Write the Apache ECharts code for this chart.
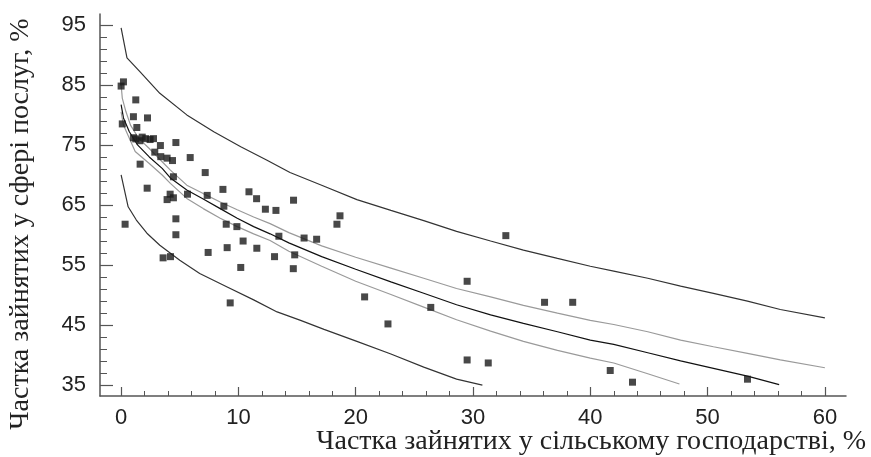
<!DOCTYPE html>
<html>
<head>
<meta charset="utf-8">
<script src="https://cdn.jsdelivr.net/npm/echarts@6/dist/echarts.min.js"></script>
<style>
html,body{margin:0;padding:0;background:#fff;}
#c{width:871px;height:457px;}
</style>
</head>
<body>
<div id="c"></div>
<script>
// Axis ticks / labels
var xMajorTicks = [0, 10, 20, 30, 40, 50, 60];
var xMinorTicks = [0,2,4,6,8,10,12,14,16,18,20,22,24,26,28,30,32,34,36,38,40,42,44,46,48,50,52,54,56,58,60];
var yMajorTicks = [35, 45, 55, 65, 75, 85, 95];
var yMinorTicks = [35,37,39,41,43,45,47,49,51,53,55,57,59,61,63,65,67,69,71,73,75,77,79,81,83,85,87,89,91,93,95];

// Observations: agriculture share (x) and services share (y), %
var obsX = [0.0,0.2,1.25,1.05,2.25,0.1,1.34,1.05,1.25,1.8,1.6,2.1,2.47,2.76,3.35,4.67,2.87,3.38,3.92,4.38,5.89,1.62,7.17,4.46,2.22,8.68,10.9,4.18,4.46,3.92,5.66,7.34,8.76,0.34,4.67,4.67,8.96,9.87,10.4,9.04,7.42,3.58,4.21,10.2,9.3,11.55,14.7,12.3,13.2,18.66,18.4,13.45,15.6,16.67,11.57,13.08,14.8,14.68,20.76,32.8,29.5,22.75,26.4,36.1,38.5,29.5,31.3,41.7,43.6,53.4];
var obsY = [84.8,85.5,82.5,79.7,79.5,78.5,77.9,76.2,76.0,76.3,75.7,76.05,75.9,76.05,74.9,75.4,73.8,73.05,72.8,72.4,72.9,71.8,70.4,69.7,67.8,67.6,67.2,66.8,66.2,65.9,66.8,66.6,64.8,61.8,62.7,60.05,61.8,61.4,59.0,57.9,57.1,56.2,56.4,54.6,48.7,66.05,65.8,64.3,64.1,63.2,61.8,59.8,59.5,59.3,57.8,56.4,56.7,54.4,49.7,59.9,52.3,45.2,47.95,48.8,48.8,39.2,38.7,37.45,35.5,36.0];

// Upper prediction bound
var upPredX = [0,0.5,1.6,3.3,5.6,7.9,10.2,12.4,14.4,17.2,20.1,23,25.8,28.6,31.5,34.3,37.2,40,42,44.9,47.7,50.5,53.4,56.2,60];
var upPredY = [94.5,89.5,87.2,83.6,80.0,77.2,74.7,72.5,70.4,68.2,65.9,64.1,62.4,60.6,59.0,57.5,56.1,54.8,54.0,52.8,51.5,50.3,49.0,47.6,46.2];

// Upper confidence bound
var upConfX = [0,0.1,0.4,0.8,1.5,2.4,3.5,4.2,5.6,7.0,8.45,9.9,11.3,12.7,14.3,17.1,20.0,23,25.8,28.6,31.5,34.3,37.2,40,42,44.9,47.7,50.5,53.4,56.2,60];
var upConfY = [85.0,82.8,80.6,78.3,76.1,74.4,72.2,70.8,68.3,66.9,65.5,64.2,63.0,61.9,60.4,58.2,56.3,54.5,52.8,51.1,49.7,48.3,47.0,45.8,45.1,43.9,42.5,41.4,40.3,39.2,37.9];

// Fitted curve
var fitX = [0,0.2,0.7,1.4,2.4,3.5,4.2,5.6,7.0,8.45,9.9,11.3,12.7,14.3,17.1,20,23,25.8,28.6,31.5,34.3,37.2,40,42,44.9,47.7,50.5,53.4,56.1];
var fitY = [81.7,79.5,77.2,75.0,73.0,71.1,69.5,67.5,66.0,64.4,62.8,61.4,60.2,58.7,56.4,54.3,52.2,50.3,48.4,46.7,45.3,43.9,42.5,41.8,40.4,39.05,37.8,36.5,35.1];

// Lower confidence bound
var loConfX = [0,0.2,0.7,1.2,2.4,3.5,4.2,5.6,7.0,8.45,9.9,11.3,12.7,14.3,17.1,20,23,25.8,28.6,31.5,34.3,37.2,40,42,44.9,47.6];
var loConfY = [80.5,78.3,76.1,73.9,71.9,70.0,68.6,66.1,64.4,62.8,61.4,60.2,59.1,57.3,54.8,52.3,50.1,48.0,45.9,44.0,42.3,40.8,39.5,38.7,36.9,35.2];

// Lower prediction bound
var loPredX = [0,0.6,1.3,2.2,3.3,5,6.7,9,11.3,13.3,15.3,17.3,20.1,23,25.8,28.6,30.8];
var loPredY = [70.0,64.7,62.5,60.3,58.3,55.8,53.6,51.4,49.2,47.2,45.8,44.3,42.3,40.2,38.0,36.0,35.0];

function pairs(xs, ys){ var r=[]; for (var i=0;i<xs.length;i++) r.push([xs[i], ys[i]]); return r; }

var chart = echarts.init(document.getElementById('c'), null, {renderer:'canvas'});
var axisCol = '#555';
var labelFont = {fontFamily:'Liberation Sans, Arial, sans-serif', fontSize:22, color:'#222'};
var titleFont = 'Liberation Serif, Times New Roman, serif';
var xMin=-1.8, xMax=61.8, yMin=33.2, yMax=96.8;

function lineSeries(name, xs, ys, color, w){
  return {type:'line', name:name, data:pairs(xs,ys), showSymbol:false, symbol:'none', smooth:false,
    lineStyle:{color:color, width:w}, xAxisIndex:0, yAxisIndex:0, silent:true, animation:false, z:2};
}

chart.setOption({
  animation:false,
  backgroundColor:'#fff',
  grid:{left:100, right:25, top:14, bottom:61, containLabel:false},
  xAxis:[
    {type:'value', min:xMin, max:xMax, position:'bottom',
     axisLine:{show:true, onZero:false, lineStyle:{color:axisCol, width:1.5}},
     axisTick:{show:true, inside:true, length:9, customValues:xMajorTicks, lineStyle:{color:axisCol, width:1.2}},
     axisLabel:Object.assign({show:true, margin:11, customValues:xMajorTicks}, labelFont),
     splitLine:{show:false}},
    {type:'value', min:xMin, max:xMax, position:'bottom', offset:0,
     axisLine:{show:false, onZero:false},
     axisTick:{show:true, inside:true, length:5, customValues:xMinorTicks, lineStyle:{color:axisCol, width:1}},
     axisLabel:{show:false},
     splitLine:{show:false}}
  ],
  yAxis:[
    {type:'value', min:yMin, max:yMax, position:'left',
     axisLine:{show:true, onZero:false, lineStyle:{color:axisCol, width:1.5}},
     axisTick:{show:true, inside:true, length:13, customValues:yMajorTicks, lineStyle:{color:axisCol, width:1.2}},
     axisLabel:Object.assign({show:true, margin:14, customValues:yMajorTicks}, labelFont),
     splitLine:{show:false}},
    {type:'value', min:yMin, max:yMax, position:'left', offset:0,
     axisLine:{show:false, onZero:false},
     axisTick:{show:true, inside:true, length:7, customValues:yMinorTicks, lineStyle:{color:axisCol, width:1}},
     axisLabel:{show:false},
     splitLine:{show:false}}
  ],
  series:[
    lineSeries('upPred', upPredX, upPredY, '#333', 1.2),
    lineSeries('upConf', upConfX, upConfY, '#9a9a9a', 1.2),
    lineSeries('fit', fitX, fitY, '#111', 1.2),
    lineSeries('loConf', loConfX, loConfY, '#9a9a9a', 1.2),
    lineSeries('loPred', loPredX, loPredY, '#333', 1.2),
    {type:'scatter', name:'obs', data:pairs(obsX, obsY), symbol:'rect', symbolSize:7,
     itemStyle:{color:'#1a1a1a'}, xAxisIndex:0, yAxisIndex:0, z:3, silent:true}
  ],
  graphic:[
    {type:'text', x:21, y:224, rotation:Math.PI/2,
     style:{text:'Частка зайнятих у сфері послуг, %', fontFamily:titleFont,
            fontSize:28, fill:'#222', align:'center', verticalAlign:'middle'}},
    {type:'text', x:866, y:442,
     style:{text:'Частка зайнятих у сільському господарстві, %', fontFamily:titleFont,
            fontSize:28, fill:'#222', align:'right', verticalAlign:'middle'}}
  ]
});
</script>
</body>
</html>
